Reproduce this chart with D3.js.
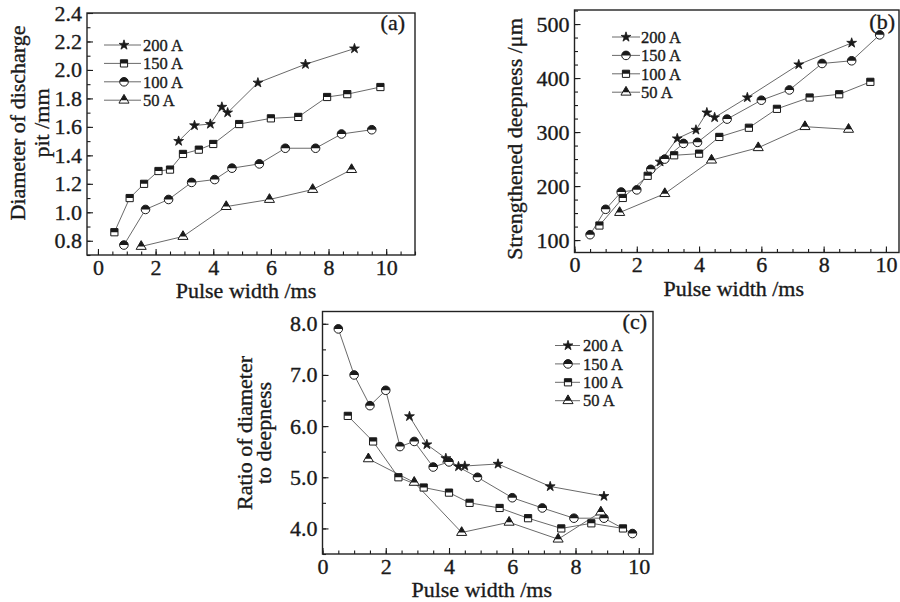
<!DOCTYPE html>
<html>
<head>
<meta charset="utf-8">
<script src="https://cdn.jsdelivr.net/npm/d3@7"></script>
<style>
body { margin: 0; background: #fff; }
text { font-family: "Liberation Serif", "Times New Roman", serif; stroke: #1a1a1a; stroke-width: 0.35px; }
</style>
</head>
<body>
<div id="chart"></div>
<script>
// (a) diameter of discharge pit /mm vs pulse width /ms
var a200x = [2.8, 3.35, 3.9, 4.3, 4.5, 5.55, 7.2, 8.9];
var a200y = [1.50, 1.61, 1.62, 1.74, 1.70, 1.91, 2.04, 2.15];
var a150x = [0.57, 1.1, 1.6, 2.1, 2.5, 2.95, 3.5, 4.0, 4.9, 6.0, 6.95, 7.95, 8.65, 9.8];
var a150y = [0.86, 1.10, 1.20, 1.29, 1.30, 1.41, 1.44, 1.48, 1.62, 1.66, 1.67, 1.81, 1.83, 1.88];
var a100x = [0.9, 1.65, 2.45, 3.25, 4.05, 4.65, 5.6, 6.5, 7.55, 8.45, 9.5];
var a100y = [0.77, 1.02, 1.09, 1.21, 1.23, 1.31, 1.34, 1.45, 1.45, 1.55, 1.58];
var a50x = [1.5, 2.95, 4.45, 5.95, 7.45, 8.8];
var a50y = [0.76, 0.83, 1.04, 1.09, 1.16, 1.30];

// (b) strengthened deepness /um
var b200x = [2.75, 3.3, 3.9, 4.25, 4.5, 5.55, 7.2, 8.9];
var b200y = [245, 288, 304, 336, 327, 364, 425, 465];
var b150x = [0.5, 1.0, 1.5, 2.0, 2.45, 2.9, 3.5, 3.95, 4.9, 6.0, 6.9, 7.95, 8.9, 9.8];
var b150y = [110, 157, 189, 193, 231, 250, 279, 281, 324, 359, 378, 427, 432, 480];
var b100x = [0.8, 1.55, 2.35, 3.2, 4.0, 4.65, 5.6, 6.5, 7.55, 8.5, 9.5];
var b100y = [127, 178, 219, 257, 260, 291, 308, 343, 364, 370, 393];
var b50x = [1.45, 2.9, 4.4, 5.9, 7.4, 8.8];
var b50y = [151, 186, 248, 271, 310, 305];

// (c) ratio of diameter to deepness
var c200x = [2.75, 3.3, 3.9, 4.3, 4.5, 5.55, 7.2, 8.9];
var c200y = [6.19, 5.64, 5.37, 5.21, 5.22, 5.26, 4.82, 4.63];
var c150x = [0.5, 1.0, 1.5, 2.0, 2.45, 2.9, 3.5, 4.0, 4.9, 6.0, 6.95, 7.95, 8.9, 9.8];
var c150y = [7.9, 7.0, 6.4, 6.7, 5.6, 5.7, 5.2, 5.3, 5.0, 4.6, 4.4, 4.2, 4.2, 3.9];
var c100x = [0.8, 1.6, 2.4, 3.2, 4.0, 4.65, 5.6, 6.5, 7.55, 8.5, 9.5];
var c100y = [6.2, 5.7, 5.0, 4.8, 4.7, 4.5, 4.4, 4.2, 4.0, 4.1, 4.0];
var c50x = [1.45, 2.9, 4.4, 5.9, 7.45, 8.8];
var c50y = [5.36, 4.9, 3.92, 4.12, 3.79, 4.32];

var xTicks = [0, 2, 4, 6, 8, 10];
var aYTicks = [0.8, 1.0, 1.2, 1.4, 1.6, 1.8, 2.0, 2.2, 2.4];
var bYTicks = [100, 200, 300, 400, 500];
var cYTicks = [4.0, 5.0, 6.0, 7.0, 8.0];
var legendA = ["200 A", "150 A", "100 A", "50 A"];

var w = 900, h = 602;
var ink = "#1a1a1a";

var svg = d3.select("#chart").append("svg")
    .attr("width", w).attr("height", h);

svg.append("rect").attr("width", w).attr("height", h).attr("fill", "#fff");

// clip for the half filled markers (top half black)
svg.append("defs").append("clipPath").attr("id", "tophalf")
  .append("rect").attr("x", -10).attr("y", -10).attr("width", 20).attr("height", 10);

var shapes = {
  star: d3.symbol().type(d3.symbolStar).size(30)(),
  square: d3.symbol().type(d3.symbolSquare).size(52)(),
  circle: d3.symbol().type(d3.symbolCircle).size(58)(),
  triangle: d3.symbol().type(d3.symbolTriangle).size(44)()
};

function marker(g, shape) {
  if (shape == "star") {
    g.append("path").attr("d", shapes.star)
      .attr("fill", ink).attr("stroke", ink).attr("stroke-width", 0.8);
    return;
  }
  g.append("path").attr("d", shapes[shape])
    .attr("fill", "#fff").attr("stroke", ink).attr("stroke-width", 1);
  g.append("path").attr("d", shapes[shape])
    .attr("fill", ink).attr("clip-path", "url(#tophalf)");
}

function minorRange(lo, hi, step) {
  var out = [];
  for (var v = lo; v <= hi + 1e-9; v += step) out.push(Math.round(v * 1000) / 1000);
  return out;
}

function drawPanel(p) {
  var L = p.frame[0], T = p.frame[1], R = p.frame[2], B = p.frame[3];
  var x = d3.scaleLinear().domain(p.xd).range([L, R]);
  var y = d3.scaleLinear().domain(p.yd).range([B, T]);
  var g = svg.append("g");

  function clean(sel) {
    sel.select(".domain").remove();
    sel.attr("font-family", null).attr("font-size", 22).attr("color", ink);
    sel.selectAll("line").attr("stroke-width", 1.1);
  }

  g.append("g").attr("transform", "translate(0," + B + ")")
    .call(d3.axisBottom(x).tickValues(p.xMinor).tickSize(-3.5).tickFormat(""))
    .call(clean);
  g.append("g").attr("transform", "translate(0," + B + ")")
    .call(d3.axisBottom(x).tickValues(xTicks).tickSize(-6).tickPadding(4)
      .tickFormat(d3.format("d")))
    .call(clean);
  g.append("g").attr("transform", "translate(" + L + ",0)")
    .call(d3.axisLeft(y).tickValues(p.yMinor).tickSize(-3.5).tickFormat(""))
    .call(clean);
  g.append("g").attr("transform", "translate(" + L + ",0)")
    .call(d3.axisLeft(y).tickValues(p.yTicks).tickSize(-6).tickPadding(5)
      .tickFormat(p.fmt))
    .call(clean);

  g.append("rect")
    .attr("x", L).attr("y", T).attr("width", R - L).attr("height", B - T)
    .attr("fill", "none").attr("stroke", "#222").attr("stroke-width", 1.4);

  var line = d3.line().x(function(d) { return x(d[0]); }).y(function(d) { return y(d[1]); });

  p.series.forEach(function(s) {
    var pts = d3.zip(s.x, s.y);
    g.append("path").datum(pts).attr("d", line)
      .attr("fill", "none").attr("stroke", "#6a6a6a").attr("stroke-width", 1);
  });
  p.series.forEach(function(s) {
    var pts = d3.zip(s.x, s.y);
    g.selectAll(null).data(pts).enter().append("g")
      .attr("transform", function(d) { return "translate(" + x(d[0]) + "," + y(d[1]) + ")"; })
      .each(function() { marker(d3.select(this), s.shape); });
  });

  // legend
  var lg = p.legend;
  p.series.forEach(function(s, i) {
    var ly = lg.y + i * lg.dy;
    g.append("line").attr("x1", lg.x0).attr("x2", lg.x1).attr("y1", ly).attr("y2", ly)
      .attr("stroke", "#6a6a6a").attr("stroke-width", 1);
    marker(g.append("g").attr("transform", "translate(" + lg.xm + "," + ly + ")"), s.shape);
    g.append("text").attr("x", lg.tx).attr("y", ly).attr("dy", "0.35em")
      .attr("font-size", 16.5).attr("fill", ink).text(legendA[i]);
  });

  g.append("text").attr("x", p.tag[0]).attr("y", p.tag[1])
    .attr("text-anchor", "end").attr("font-size", 22).attr("fill", ink).text(p.tagText);

  g.append("text").attr("x", (L + Math.min(R, w)) / 2 + p.xLabelShift).attr("y", B + 43)
    .attr("text-anchor", "middle").attr("font-size", 22).attr("fill", ink)
    .text("Pulse width /ms");

  p.yLabel.forEach(function(t, i) {
    g.append("text")
      .attr("transform", "translate(" + p.yLabelX[i] + "," + p.yLabelCy + ") rotate(-90)")
      .attr("text-anchor", "middle").attr("font-size", 22).attr("fill", ink).text(t);
  });
}

var f1 = d3.format(".1f");

drawPanel({
  frame: [87, 13, 415, 255], xd: [-0.38, 11], yd: [0.7, 2.4],
  xMinor: minorRange(0, 11, 0.5), yMinor: minorRange(0.7, 2.4, 0.1),
  yTicks: aYTicks, fmt: f1,
  series: [
    {x: a200x, y: a200y, shape: "star"},
    {x: a150x, y: a150y, shape: "square"},
    {x: a100x, y: a100y, shape: "circle"},
    {x: a50x, y: a50y, shape: "triangle"}
  ],
  legend: {y: 45, dy: 18.4, x0: 104, x1: 141, xm: 124, tx: 143},
  tag: [405, 30], tagText: "(a)",
  xLabelShift: -5,
  yLabel: ["Diameter of discharge", "pit /mm"], yLabelX: [25, 49], yLabelCy: 123
});

drawPanel({
  frame: [574.5, 10, 899, 252.5], xd: [0, 10.42], yd: [77, 526],
  xMinor: minorRange(0, 10.4, 0.5), yMinor: minorRange(100, 525, 25),
  yTicks: bYTicks, fmt: d3.format("d"),
  series: [
    {x: b200x, y: b200y, shape: "star"},
    {x: b150x, y: b150y, shape: "circle"},
    {x: b100x, y: b100y, shape: "square"},
    {x: b50x, y: b50y, shape: "triangle"}
  ],
  legend: {y: 37, dy: 18.4, x0: 612, x1: 640, xm: 626, tx: 641},
  tag: [895, 29], tagText: "(b)",
  xLabelShift: -3,
  yLabel: ["Strengthened deepness /\u03bcm"], yLabelX: [522], yLabelCy: 139
});

drawPanel({
  frame: [322.5, 311.5, 653, 554], xd: [0, 10.45], yd: [3.5, 8.24],
  xMinor: minorRange(0, 10.4, 0.5), yMinor: minorRange(3.5, 8.0, 0.5),
  yTicks: cYTicks, fmt: f1,
  series: [
    {x: c200x, y: c200y, shape: "star"},
    {x: c150x, y: c150y, shape: "circle"},
    {x: c100x, y: c100y, shape: "square"},
    {x: c50x, y: c50y, shape: "triangle"}
  ],
  legend: {y: 345.5, dy: 18.4, x0: 555, x1: 580, xm: 568, tx: 583},
  tag: [647, 329], tagText: "(c)",
  xLabelShift: -6,
  yLabel: ["Ratio of diameter", "to deepness"], yLabelX: [252, 271], yLabelCy: 433
});
</script>
</body>
</html>
